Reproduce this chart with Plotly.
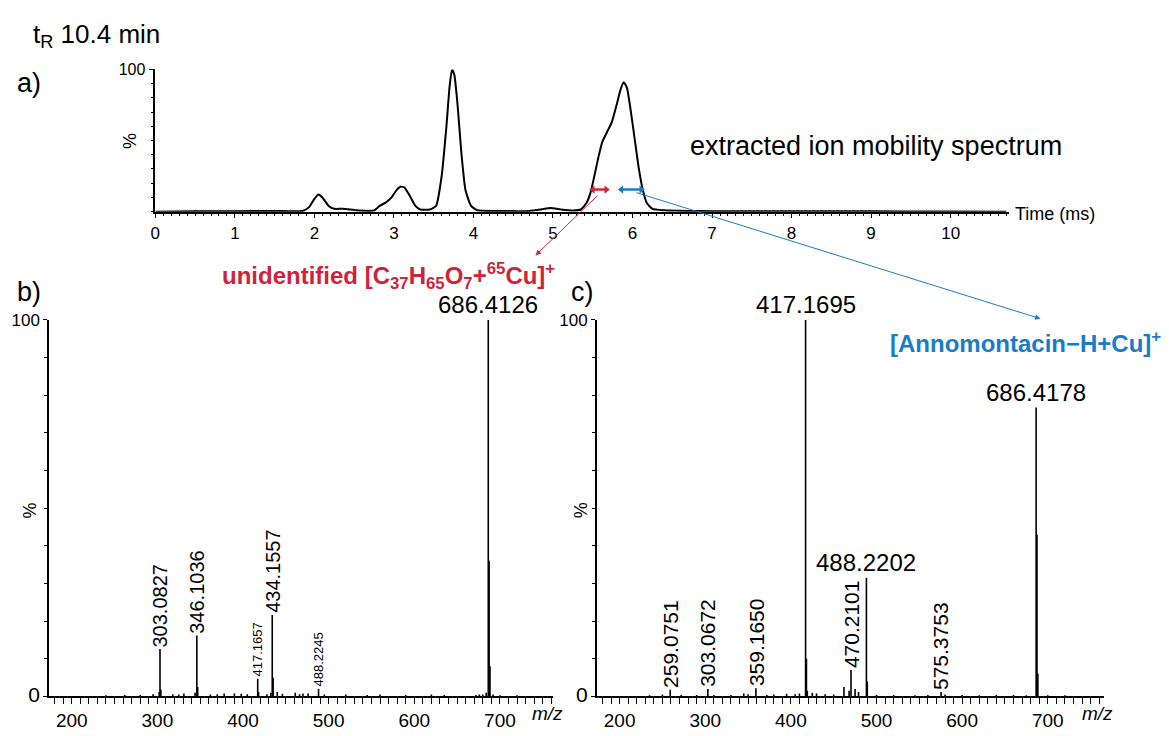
import plotly.graph_objects as go

W, H = 1169, 736
FONT = "Arial, Liberation Sans, sans-serif"
RED = "#d0233a"
BLUE = "#1a7cc6"

# ---------------- (a) extracted ion mobility spectrum ----------------
ims_time = [0.0, 0.5, 1.0, 1.5, 1.85, 1.93, 2.0, 2.05, 2.1, 2.18, 2.25, 2.35, 2.45, 2.55,
            2.75, 2.82, 2.9, 2.97, 3.03, 3.08, 3.13, 3.2, 3.27, 3.33, 3.45, 3.53, 3.6,
            3.66, 3.7, 3.73, 3.76, 3.8, 3.85, 3.9, 3.97, 4.05, 4.3, 4.7, 4.85, 4.97, 5.1,
            5.25, 5.35, 5.42, 5.47, 5.52, 5.57, 5.62, 5.68, 5.74, 5.8, 5.85, 5.89, 5.93,
            5.98, 6.03, 6.08, 6.13, 6.18, 6.25, 6.4, 6.7, 7.0, 8.0, 9.0, 10.0, 10.7]
ims_int = [0.0, 0.2, 0.3, 0.5, 0.5, 3, 9, 12, 10, 4, 2, 2, 1.5, 0.8,
           0.8, 4, 6.5, 10, 15, 17.5, 17, 11, 4, 1.5, 1.5, 4, 25,
           60, 88, 100, 96, 75, 40, 15, 4, 1, 0.5, 0.5, 1.5, 2.5, 1.5,
           0.8, 1.5, 6, 13, 25, 38, 49, 56, 63, 75, 86, 91, 87,
           70, 50, 30, 15, 6, 2, 1, 0.5, 0.3, 0.2, 0.2, 0.1, 0.0]
ims_ticks = [0, 1, 2, 3, 4, 5, 6, 7, 8, 9, 10]

# mobility windows (ms) and their level (%)
red_window = [5.50, 5.67]
blue_window = [5.86, 6.11]
window_level = 15.5

# ---------------- (b) spectrum of the unidentified ion ----------------
b_mz = [240, 262, 280, 295, 302.1, 303.08, 304.1, 318, 325, 331, 344, 346.10, 347.1,
        362, 370, 378, 390, 398, 405, 417.17, 418.2, 428, 432.5, 434.16, 435.2, 440,
        446, 461, 466, 470, 476, 488.22, 495, 520, 545, 560, 590, 620, 635, 672, 676,
        680, 684, 686.41, 687.42, 688.42, 692, 700, 720]
b_int = [0.3, 0.4, 0.4, 0.6, 1.2, 12.6, 1.8, 0.6, 0.5, 0.8, 1.0, 16.2, 2.5,
         0.5, 0.6, 0.8, 0.8, 0.7, 0.6, 4.7, 1.2, 0.6, 1.0, 21.6, 5.0, 1.2,
         0.7, 1.0, 0.6, 0.8, 0.8, 2.0, 0.5, 0.5, 0.4, 0.5, 0.4, 0.5, 0.4, 0.4, 0.5,
         0.5, 1.0, 100.0, 36.0, 8.0, 0.5, 0.3, 0.3]
b_lab_mz = [303.08, 346.10, 417.17, 434.16, 488.22, 686.41]
b_lab_h = [12.6, 16.2, 4.7, 21.6, 2.0, 100.0]
b_lab_text = ["303.0827", "346.1036", "417.1657", "434.1557", "488.2245", "686.4126"]
b_lab_size = [20, 20, 13, 20, 13, 24]
b_lab_angle = [-90, -90, -90, -90, -90, 0]

# ---------------- (c) spectrum of [Annomontacin-H+Cu]+ ----------------
c_mz = [235, 250, 259.08, 272, 290, 303.07, 310, 330, 345, 350, 359.17, 372, 380,
        395, 405, 410, 417.17, 418.17, 419.2, 425, 430, 440, 450, 462, 468, 470.21,
        475, 479, 488.22, 489.22, 500, 520, 545, 560, 575.38, 580, 600, 620, 640, 660,
        675, 686.42, 687.42, 688.42, 700, 720]
c_int = [0.3, 0.5, 1.8, 0.4, 0.4, 2.0, 0.4, 0.4, 0.8, 0.6, 2.2, 0.4, 0.5,
         0.7, 0.6, 0.8, 100.0, 10.0, 1.5, 1.0, 0.8, 0.6, 0.5, 2.5, 1.5, 7.0,
         2.0, 1.2, 31.5, 4.0, 0.4, 0.4, 0.3, 0.4, 1.2, 0.5, 0.4, 0.3, 0.4, 0.4,
         0.3, 76.7, 42.9, 6.0, 0.3, 0.3]
c_lab_mz = [259.08, 303.07, 359.17, 417.17, 470.21, 488.22, 575.38, 686.42]
c_lab_h = [1.8, 2.0, 2.2, 100.0, 7.0, 31.5, 1.2, 76.7]
c_lab_text = ["259.0751", "303.0672", "359.1650", "417.1695", "470.2101", "488.2202",
              "575.3753", "686.4178"]
c_lab_size = [21, 21, 21, 24, 21, 24, 21, 24]
c_lab_angle = [-90, -90, -90, 0, -90, 0, -90, 0]

ms_ticks = [200, 300, 400, 500, 600, 700]


def sticks(mz, inten):
    xs, ys = [], []
    for m, h in zip(mz, inten):
        xs += [m, m, None]
        ys += [0, h, None]
    return xs, ys


def px(x):
    return x / W


def py(y):
    return 1 - y / H


fig = go.Figure()
fig.add_trace(go.Scatter(x=ims_time, y=ims_int, mode="lines", xaxis="x", yaxis="y",
                         line=dict(color="black", width=2, shape="spline", smoothing=0.5),
                         showlegend=False, hoverinfo="skip"))
# mobility windows drawn as double-headed arrows
for win, col in [(red_window, RED), (blue_window, BLUE)]:
    fig.add_trace(go.Scatter(x=win, y=[window_level, window_level], mode="lines+markers",
                             xaxis="x", yaxis="y",
                             line=dict(color=col, width=2.5),
                             marker=dict(symbol=["triangle-left", "triangle-right"], size=7,
                                         color=col, line=dict(width=0)),
                             showlegend=False, hoverinfo="skip"))
bx, by = sticks(b_mz, b_int)
fig.add_trace(go.Scatter(x=bx, y=by, mode="lines", xaxis="x2", yaxis="y2",
                         line=dict(color="black", width=1.6), showlegend=False))
cx, cy = sticks(c_mz, c_int)
fig.add_trace(go.Scatter(x=cx, y=cy, mode="lines", xaxis="x3", yaxis="y3",
                         line=dict(color="black", width=1.6), showlegend=False))

axis_common = dict(showline=True, linecolor="black", linewidth=1.5, showgrid=False,
                   zeroline=False, ticks="outside", tickcolor="black", tickwidth=1,
                   fixedrange=True)

ann = []


def text(x, y, t, size, xanchor="left", yanchor="middle", color="black", angle=0, **kw):
    ann.append(dict(x=px(x), y=py(y), xref="paper", yref="paper", text=t, showarrow=False,
                    xanchor=xanchor, yanchor=yanchor, textangle=angle,
                    font=dict(family=FONT, size=size, color=color), **kw))


text(26, 27, "t<sub>R</sub> 10.4 min", 26)
text(10, 76, "a)", 27)
text(10, 290, "b)", 27)
text(566, 290, "c)", 27)
text(686, 141, "extracted ion mobility spectrum", 27)
text(1012, 210, "Time (ms)", 18)
text(125, 135, "%", 18, xanchor="center", angle=-90)
text(25, 515, "%", 18, xanchor="center", angle=-90)
text(578, 515, "%", 18, xanchor="center", angle=-90)
text(545, 723, "<i>m/z</i>", 19, xanchor="center")
text(1097, 723, "<i>m/z</i>", 19, xanchor="center")
text(385, 274, "<b>unidentified [C<sub>37</sub>H<sub>65</sub>O<sub>7</sub>+<sup>65</sup>Cu]<sup>+</sup></b>",
     24, xanchor="center", color=RED)
text(1025, 342, "<b>[Annomontacin\u2212H+Cu]<sup>+</sup></b>", 24, xanchor="center", color=BLUE)

# peak labels
for xr, yr, mzs, hs, ts, ss, angs in [("x2", "y2", b_lab_mz, b_lab_h, b_lab_text, b_lab_size, b_lab_angle),
                                       ("x3", "y3", c_lab_mz, c_lab_h, c_lab_text, c_lab_size, c_lab_angle)]:
    for m, h, t, s, a in zip(mzs, hs, ts, ss, angs):
        ann.append(dict(x=m, y=h, xref=xr, yref=yr, text=t, showarrow=False,
                        xanchor="center", yanchor="bottom", textangle=a, yshift=0,
                        font=dict(family=FONT, size=s, color="black")))

# connecting arrows to the spectra (head positions expressed in panel-a data units)
ann.append(dict(x=4.78, y=-30.8, ax=5.58, ay=12.3, xref="x", yref="y", axref="x", ayref="y",
                text="", showarrow=True, arrowhead=2, arrowsize=1.1, arrowwidth=1,
                arrowcolor=RED))
ann.append(dict(x=11.13, y=-75.3, ax=6.03, ay=13.7, xref="x", yref="y", axref="x", ayref="y",
                text="", showarrow=True, arrowhead=2, arrowsize=1.1, arrowwidth=1,
                arrowcolor=BLUE))

fig.update_layout(
    width=W, height=H, margin=dict(l=0, r=0, t=0, b=0),
    paper_bgcolor="white", plot_bgcolor="white",
    font=dict(family=FONT, color="black"),
    xaxis=dict(domain=[px(151), px(1008)], range=[0, 10.73], anchor="y",
               tickvals=ims_ticks, ticklen=5, tickfont=dict(size=17),
               minor=dict(dtick=0.1, tick0=0, ticklen=3, ticks="outside", tickcolor="black"),
               **axis_common),
    yaxis=dict(domain=[py(208), py(62)], range=[0, 100], anchor="x",
               tickvals=[100], ticktext=["100"], ticklen=5,
               tickfont=dict(size=16),
               minor=dict(dtick=10, tick0=0, ticklen=3, ticks="outside", tickcolor="black"),
               **axis_common),
    xaxis2=dict(domain=[px(44.3), px(550.7)], range=[173.6, 762.4], anchor="y2",
                tickvals=ms_ticks, ticklen=6, tickfont=dict(size=19),
                minor=dict(dtick=10, tick0=0, ticklen=6, ticks="outside", tickcolor="black"),
                **axis_common),
    yaxis2=dict(domain=[py(705.7), py(319)], range=[0, 100], anchor="x2",
                tickvals=[0, 100], ticktext=['<span style="font-size:21px">0</span>', "100"],
                ticklen=4, tickfont=dict(size=17),
                minor=dict(dtick=10, tick0=0, ticklen=3, ticks="outside", tickcolor="black"),
                **axis_common),
    xaxis3=dict(domain=[px(594.3), px(1104)], range=[173.3, 766], anchor="y3",
                tickvals=ms_ticks, ticklen=6, tickfont=dict(size=19),
                minor=dict(dtick=10, tick0=0, ticklen=6, ticks="outside", tickcolor="black"),
                **axis_common),
    yaxis3=dict(domain=[py(705.7), py(319)], range=[0, 100], anchor="x3",
                tickvals=[0, 100], ticktext=['<span style="font-size:21px">0</span>', "100"],
                ticklen=4, tickfont=dict(size=17),
                minor=dict(dtick=10, tick0=0, ticklen=3, ticks="outside", tickcolor="black"),
                **axis_common),
    annotations=ann,
)

fig.write_html("out.html")
